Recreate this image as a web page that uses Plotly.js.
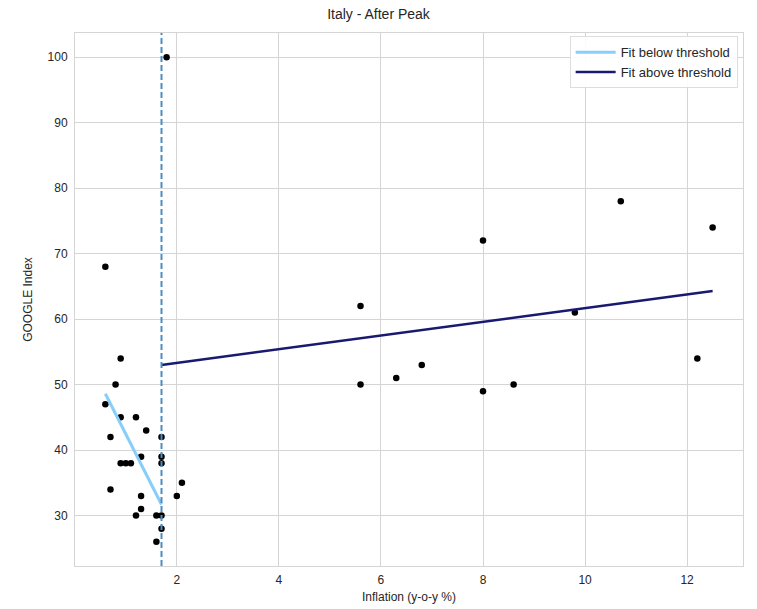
<!DOCTYPE html>
<html>
<head>
<meta charset="utf-8">
<script src="https://cdn.plot.ly/plotly-3.0.1.min.js"></script>
<style>html,body{margin:0;padding:0;background:#fff;}#chart{width:757px;height:609px;}</style>
</head>
<body>
<div id="chart"></div>
<script>
// Scatter data: inflation (y-o-y %) vs GOOGLE index
const inflation = [0.6, 0.9, 0.8, 0.6, 0.9, 1.2, 1.4, 0.7, 1.7, 1.3, 1.7, 1.7, 0.9, 1.0, 1.1,
  2.1, 0.7, 1.3, 2.0, 1.3, 1.2, 1.6, 1.7, 1.7, 1.6, 1.8,
  8.0, 10.7, 12.5, 5.6, 9.8, 12.2, 6.8, 6.3, 5.6, 8.6, 8.0];
const googleIndex = [68, 54, 50, 47, 45, 45, 43, 42, 42, 39, 39, 38, 38, 38, 38,
  35, 34, 33, 33, 31, 30, 30, 30, 28, 26, 100,
  72, 78, 74, 62, 61, 54, 53, 51, 50, 50, 49];

// Threshold and fitted lines (endpoints)
const threshold = 1.7;
const fitBelowX = [0.6, 1.7];
const fitBelowY = [48.6, 31.7];
const fitAboveX = [1.7, 12.5];
const fitAboveY = [53.0, 64.3];

const textColor = '#262626';
const gridColor = '#d5d5d5';

const traces = [
  {
    x: inflation, y: googleIndex, type: 'scatter', mode: 'markers',
    marker: {color: '#000000', size: 6.5, line: {width: 0}},
    showlegend: false, hoverinfo: 'x+y'
  },
  {
    x: fitBelowX, y: fitBelowY, type: 'scatter', mode: 'lines',
    name: 'Fit below threshold',
    line: {color: '#87CEFA', width: 3}
  },
  {
    x: fitAboveX, y: fitAboveY, type: 'scatter', mode: 'lines',
    name: 'Fit above threshold',
    line: {color: '#191970', width: 2.5}
  }
];

const layout = {
  width: 757, height: 609,
  margin: {l: 75, r: 14, t: 33, b: 43},
  paper_bgcolor: '#ffffff', plot_bgcolor: '#ffffff',
  font: {family: 'Liberation Sans, Arial, sans-serif', size: 12, color: textColor},
  title: {text: 'Italy - After Peak', x: 0.5, xanchor: 'center', y: 0.985, yanchor: 'top',
    font: {size: 14, color: textColor}},
  xaxis: {
    range: [0.005, 13.095], tickvals: [2, 4, 6, 8, 10, 12],
    showgrid: true, gridcolor: gridColor, gridwidth: 1,
    zeroline: false, showline: true, linecolor: gridColor, linewidth: 1, mirror: true,
    ticks: 'outside', ticklen: 3, tickcolor: '#ffffff',
    title: {text: 'Inflation (y-o-y %)', standoff: 6, font: {size: 12, color: textColor}},
    tickfont: {size: 12, color: textColor}
  },
  yaxis: {
    range: [22.3, 103.7], tickvals: [30, 40, 50, 60, 70, 80, 90, 100],
    showgrid: true, gridcolor: gridColor, gridwidth: 1,
    zeroline: false, showline: true, linecolor: gridColor, linewidth: 1, mirror: true,
    ticks: 'outside', ticklen: 4, tickcolor: '#ffffff',
    title: {text: 'GOOGLE Index', standoff: 12, font: {size: 12, color: textColor}},
    tickfont: {size: 12, color: textColor}
  },
  shapes: [{
    type: 'line', xref: 'x', yref: 'paper', x0: threshold, x1: threshold, y0: 0, y1: 1,
    line: {color: '#4f8cc4', width: 2, dash: '6px,3px'}, layer: 'above'
  }],
  legend: {
    x: 0.992, y: 0.994, xanchor: 'right', yanchor: 'top',
    bgcolor: 'rgba(255,255,255,0.9)', bordercolor: '#dddddd', borderwidth: 1,
    font: {size: 13, color: textColor}, tracegroupgap: 0, itemwidth: 40
  },
  showlegend: true
};

Plotly.newPlot('chart', traces, layout, {displayModeBar: false, staticPlot: true});
</script>
</body>
</html>
